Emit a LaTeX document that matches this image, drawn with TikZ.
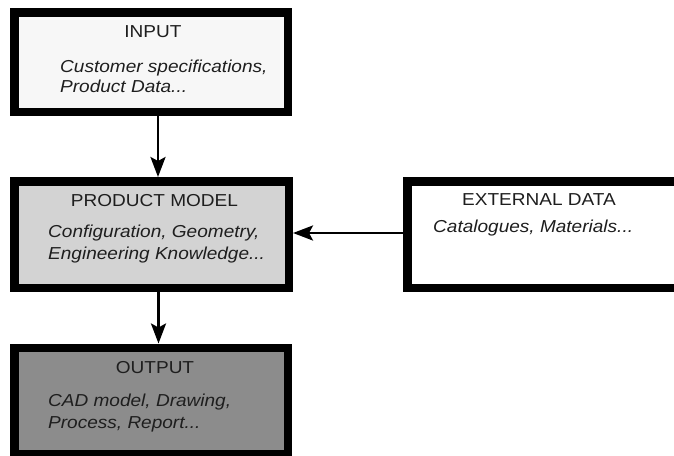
\documentclass[tikz,border=0pt]{standalone}
\usepackage{fontspec}
\setmainfont{Liberation Sans}[FakeStretch=1.1]
\usetikzlibrary{arrows.meta}
\definecolor{fillin}{HTML}{F7F7F7}
\definecolor{fillpm}{HTML}{D3D3D3}
\definecolor{fillout}{HTML}{8C8C8C}
\definecolor{txt}{HTML}{1E1E1E}
\begin{document}
\begin{tikzpicture}[x=1pt,y=-1pt,
  box/.style={draw=black, line width=8.5pt, minimum width=273.5pt, minimum height=106.5pt, inner sep=0pt},
  openbox/.style={fill=white, minimum width=300pt, minimum height=106.5pt, inner sep=0pt, outer sep=0pt},
  edge/.style={draw=black, line width=8.5pt, line join=miter},
  ttl/.style={anchor=base, inner sep=0pt, font=\fontsize{17.3}{20}\selectfont, text=txt},
  body/.style={anchor=base west, inner sep=0pt, font=\fontsize{17.3}{20}\selectfont\itshape, text=txt},
  conn/.style={line width=2.6pt, -{Stealth[length=20pt,width=15pt,inset=4pt]}}]
\useasboundingbox (0,0) rectangle (674,455);
\clip (0,0) rectangle (674,455);

\node[box, fill=fillin, minimum height=99.5pt] (in) at (151,62) {};
\node[box, fill=fillpm, minimum width=274.5pt] (pm) at (151.5,234.5) {};
\node[box, fill=fillout] (out) at (151,401) {};
\node[openbox] (ext) at (557.25,234.5) {};
\draw[edge] (ext.north east) -- (ext.north west) -- (ext.south west) -- (ext.south east);

\node[ttl] (inT) at (153,37) {INPUT};
\node[body] (inB1) at (60,72) {Customer specifications,};
\node[body] (inB2) at (60,92) {Product Data...};

\node[ttl] (pmT) at (154.5,206) {PRODUCT MODEL};
\node[body] (pmB1) at (48,237) {Configuration, Geometry,};
\node[body] (pmB2) at (48,259) {Engineering Knowledge...};

\node[ttl] (outT) at (155,373) {OUTPUT};
\node[body] (outB1) at (48,406) {CAD model, Drawing,};
\node[body] (outB2) at (48,428) {Process, Report...};

\node[ttl] (extT) at (539,205) {EXTERNAL DATA};
\node[body] (extB1) at (433,232) {Catalogues, Materials...};

\draw[conn] ([xshift=7pt]in.south) -- ([xshift=7pt]in.south |- pm.north);
\draw[conn] ([xshift=7pt]pm.south) -- ([xshift=7pt]pm.south |- out.north);
\draw[conn] ([xshift=-4.25pt,yshift=1.5pt]ext.west) -- ([yshift=1.5pt]ext.west -| pm.east);
\end{tikzpicture}
\end{document}
